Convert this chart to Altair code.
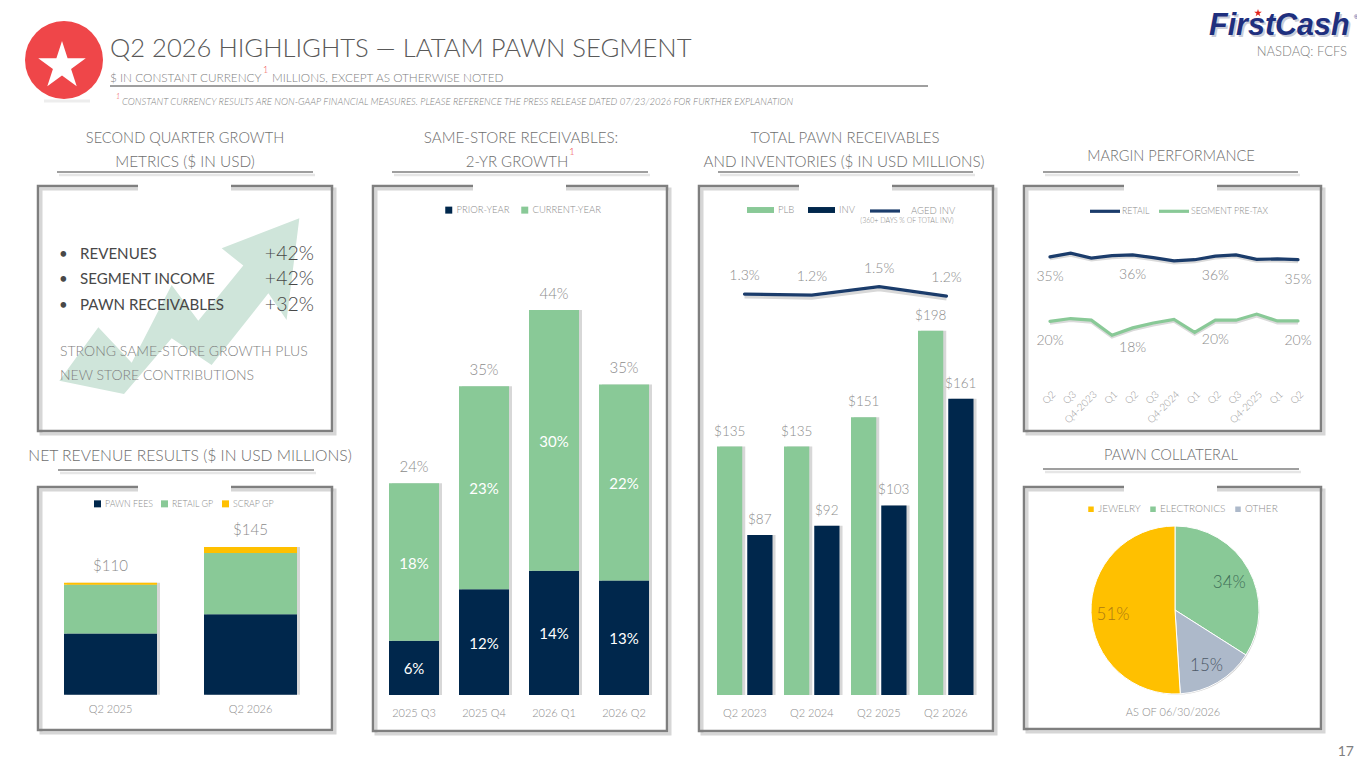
import altair as alt
import pandas as pd

# ---------- palette ----------
NAVY = "#00274C"; LINE_NAVY = "#1B3C6B"; GREEN = "#89C997"; YELLOW = "#FFC000"; SLATE = "#ADB9CA"
GRAY = "#7F7F7F"; LABEL = "#8C8C8C"; TEXT = "#595959"; RED = "#EF4649"
FONT = "Lato"
H = 752

# ---------- data ----------
rev_periods = ["Q2 2025", "Q2 2026"]
rev_series = ["Pawn Fees", "Retail GP", "Scrap GP"]
rev_pawn = [60, 79]
rev_retail = [48, 60]
rev_scrap = [2, 6]
rev_totals = ["$110", "$145"]

ss_periods = ["2025 Q3", "2025 Q4", "2026 Q1", "2026 Q2"]
ss_prior = [6.2, 12.1, 14.2, 13.1]
ss_current = [18.0, 23.2, 29.8, 22.4]
ss_prior_lbl = ["6%", "12%", "14%", "13%"]
ss_current_lbl = ["18%", "23%", "30%", "22%"]
ss_total_lbl = ["24%", "35%", "44%", "35%"]

tp_periods = ["Q2 2023", "Q2 2024", "Q2 2025", "Q2 2026"]
tp_plb = [135, 135, 151, 198]
tp_inv = [87, 92, 103, 161]
tp_aged = [1.25, 1.21, 1.50, 1.18]
tp_aged_lbl = ["1.3%", "1.2%", "1.5%", "1.2%"]

mg_periods = ["Q2-2023", "Q3-2023", "Q4-2023", "Q1-2024", "Q2-2024", "Q3-2024", "Q4-2024",
              "Q1-2025", "Q2-2025", "Q3-2025", "Q4-2025", "Q1-2026", "Q2-2026"]
mg_retail = [35.8, 36.7, 35.5, 36.1, 36.3, 35.6, 34.8, 35.1, 36.0, 36.3, 35.2, 35.3, 35.1]
mg_segment = [19.9, 20.6, 20.2, 16.5, 18.3, 19.5, 20.4, 17.2, 20.2, 20.2, 21.7, 20.0, 20.0]
mg_retail_lbl = ["35%", "", "", "", "36%", "", "", "", "36%", "", "", "", "35%"]
mg_segment_lbl = ["20%", "", "", "", "18%", "", "", "", "20%", "", "", "", "20%"]

pie_cats = ["Electronics", "Other", "Jewelry"]
pie_vals = [34, 15, 51]
pie_lbl_colors = ["#3F6F58", "#4E5A68", "#AD7A12"]

ARROW = [(118, 782), (235, 622), (335, 728), (455, 495), (535, 602), (670, 437), (605, 385), (838, 295),
         (800, 600), (745, 520), (575, 735), (455, 655), (312, 822)]
STAR = "M0,-1L0.224,-0.309L0.951,-0.309L0.363,0.118L0.588,0.809L0,0.382L-0.588,0.809L-0.363,0.118L-0.951,-0.309L-0.224,-0.309Z"

# ---------- helpers ----------
one = alt.Data(values=[{"k": 1}])
layers = []


def px(v):
    return v - 8


def add(c):
    layers.append(c)


def txt(s, x, y, size, color=TEXT, align="left", weight=300, font=FONT, style="normal", baseline="alphabetic", angle=0):
    add(alt.Chart(one).mark_text(fontSize=size, color=color, align=align, fontWeight=weight, font=font,
                                 fontStyle=style, baseline=baseline, angle=angle)
        .encode(x=alt.value(px(x)), y=alt.value(px(y)), text=alt.value(s)))


def rule(x1, x2, y, color=GRAY, w=1.5):
    add(alt.Chart(one).mark_rule(color=color, strokeWidth=w)
        .encode(x=alt.value(px(x1)), x2=alt.value(px(x2)), y=alt.value(px(y))))


def head_rule(x1, x2, y):
    rule(x1 + 2, x2 + 2, y + 3, "#E6E6E6", 2.5)
    rule(x1, x2, y, GRAY, 1.5)


def box(x1, y1, x2, y2, **kw):
    add(alt.Chart(one).mark_rect(**kw).encode(x=alt.value(px(x1)), x2=alt.value(px(x2)),
                                              y=alt.value(px(y1)), y2=alt.value(px(y2))))


def frame(x1, y1, x2, y2):
    box(x1, y1, x2, y2, fill="white")
    box(x1 + 3, y1 + 3, x2 + 3, y2 + 3, fill="white", fillOpacity=0, stroke="#D6D6D6", strokeWidth=3)
    box(x1, y1, x2, y2, fill="white", fillOpacity=0, stroke=GRAY, strokeWidth=2.5)
    box(x1 + 100, y1 - 4, x1 + 193, y1 + 8, fill="white")


def band(cats, left, w, step, shift=0):
    r0 = px(left) - (step - w) / 2 + shift
    return alt.Scale(domain=cats, range=[r0, r0 + step * len(cats)],
                     paddingInner=(step - w) / step, paddingOuter=(step - w) / (2 * step))


def points(cats, first, last):
    return alt.Scale(type="point", domain=cats, range=[px(first), px(last)], padding=0)


def vert(domain, bottom, top, shift=0):
    return alt.Scale(domain=domain, range=[px(bottom) + shift, px(top) + shift], nice=False, zero=False)


def cat_axis(y, size=11, color=LABEL, **kw):
    return alt.Axis(orient="bottom", offset=-(H - px(y)), domain=False, ticks=False, tickSize=0, labelPadding=0,
                    title=None, labelFont=FONT, labelFontSize=size, labelColor=color, labelFontWeight=300,
                    labelAngle=kw.pop("labelAngle", 0), zindex=1, grid=False, labelOverlap=False, **kw)


def legend(x, y, size=9, sym="square", symsize=49, **kw):
    return alt.Legend(orient="none", legendX=px(x), legendY=px(y), direction="horizontal", title=None,
                      symbolType=sym, symbolSize=symsize, labelFont=FONT, labelFontSize=size, labelColor=LABEL,
                      labelFontWeight=300, zindex=1, labelExpr="upper(datum.label)", **kw)


# ---------- header ----------
rule(44, 90, 101, "#EDEDED", 3)
add(alt.Chart(one).mark_point(shape="circle", filled=True, size=6084, color=RED, opacity=1)
    .encode(x=alt.value(px(64)), y=alt.value(px(60))))
add(alt.Chart(one).mark_point(shape=STAR, filled=True, size=2500, color="white", opacity=1)
    .encode(x=alt.value(px(62)), y=alt.value(px(66))))
txt("Q2 2026 HIGHLIGHTS — LATAM PAWN SEGMENT", 110, 57, 25.6, TEXT)
txt("$ IN CONSTANT CURRENCY", 110, 82, 11.8, GRAY)
txt("1", 263, 73, 9, RED)
txt("MILLIONS, EXCEPT AS OTHERWISE NOTED", 272, 82, 11.8, GRAY)
rule(110, 928, 86, GRAY, 1.6)
txt("1", 116, 99, 7, RED, style="italic")
txt("CONSTANT CURRENCY RESULTS ARE NON-GAAP FINANCIAL MEASURES. PLEASE REFERENCE THE PRESS RELEASE DATED 07/23/2026 FOR FURTHER EXPLANATION",
    122, 105, 9.5, GRAY, style="italic")

txt("FirstCash", 1211, 37, 30.5, "#C9CCD8", weight=700, font="Liberation Sans", style="italic")
txt("FirstCash", 1209, 35, 30.5, "#1E2F7E", weight=700, font="Liberation Sans", style="italic")
txt("®", 1354, 19, 6, "#1E2F7E", font="Liberation Sans", weight=400)
add(alt.Chart(one).mark_point(shape=STAR, filled=True, size=64, color="#E2231A", opacity=1)
    .encode(x=alt.value(px(1258)), y=alt.value(px(13))))
txt("NASDAQ: FCFS", 1347, 56, 13, GRAY, align="right")
txt("17", 1354, 756, 14, GRAY, align="right", weight=400)

# ---------- section titles ----------
TC = "#6E6E6E"
txt("SECOND QUARTER GROWTH", 185, 143, 14.6, TC, "center")
txt("METRICS ($ IN USD)", 185, 167, 15.4, TC, "center")
head_rule(57, 313, 172)
txt("SAME-STORE RECEIVABLES:", 521, 143, 15.2, TC, "center")
txt("2-YR GROWTH", 517, 167, 15, TC, "center")
txt("1", 569, 155, 10, RED)
head_rule(392, 648, 172)
txt("TOTAL PAWN RECEIVABLES", 845, 143, 15, TC, "center")
txt("AND INVENTORIES ($ IN USD MILLIONS)", 844, 167, 15.2, TC, "center")
head_rule(718, 973, 172)
txt("MARGIN PERFORMANCE", 1171, 161, 14.6, TC, "center")
head_rule(1043, 1298, 172)
txt("NET REVENUE RESULTS ($ IN USD MILLIONS)", 190, 461, 15.7, TC, "center")
head_rule(58, 314, 470)
txt("PAWN COLLATERAL", 1171, 460, 14.6, TC, "center")
head_rule(1043, 1299, 469)

# ---------- frames ----------
frame(38, 186, 332, 431)
frame(38, 487, 332, 730)
frame(373, 186, 667, 731)
frame(699, 186, 993, 731)
frame(1024, 186, 1321, 431)
frame(1024, 487, 1321, 729)

# ---------- growth panel ----------
lo_x = min(p[0] for p in ARROW); hi_x = max(p[0] for p in ARROW)
lo_y = min(p[1] for p in ARROW); hi_y = max(p[1] for p in ARROW)
cx, cy = (lo_x + hi_x) / 2, (lo_y + hi_y) / 2
half = (hi_x - lo_x) / 2
arrow_path = "M" + "L".join(f"{(a - cx) / half:.3f},{(b - cy) / half:.3f}" for a, b in ARROW) + "Z"
add(alt.Chart(one).mark_point(shape=arrow_path, filled=True, size=(2 * half / 3) ** 2, color="#CFE5DA", opacity=1)
    .encode(x=alt.value(px(20 + cx / 3)), y=alt.value(px(120 + cy / 3))))
DARK = "#484848"
for lbl, pct, y in [("REVENUES", "+42%", 259), ("SEGMENT INCOME", "+42%", 284), ("PAWN RECEIVABLES", "+32%", 310)]:
    txt("•", 59, y, 15, DARK, weight=400)
    txt(lbl, 80, y, 15.1, DARK, weight=400)
    txt(pct, 314, y + 1, 19.5, DARK, "right")
txt("STRONG SAME-STORE GROWTH PLUS", 60, 356, 14, GRAY)
txt("NEW STORE CONTRIBUTIONS", 60, 380, 14, GRAY)

# ---------- net revenue ----------
rev = pd.DataFrame({
    "period": rev_periods * 3,
    "series": [s for s in rev_series for _ in rev_periods],
    "value": rev_pawn + rev_retail + rev_scrap,
    "o": [i for i in range(3) for _ in rev_periods],
})
rev_tot = pd.DataFrame({"period": rev_periods,
                        "total": [a + b + c for a, b, c in zip(rev_pawn, rev_retail, rev_scrap)],
                        "lbl": rev_totals})
RD = [0, 145]
add(alt.Chart(rev_tot).mark_bar(color="#BDBDBD", opacity=0.6).encode(
    x=alt.X("period:N", scale=band(rev_periods, 64, 93, 140, 3), axis=None),
    y=alt.Y("total:Q", scale=vert(RD, 694.7, 547, 0), axis=None)))
add(alt.Chart(rev).mark_bar().encode(
    x=alt.X("period:N", scale=band(rev_periods, 64, 93, 140), axis=cat_axis(703)),
    y=alt.Y("value:Q", stack="zero", scale=vert(RD, 694.7, 547), axis=None),
    order=alt.Order("o:Q"),
    color=alt.Color("series:N", scale=alt.Scale(domain=rev_series, range=[NAVY, GREEN, YELLOW]),
                    legend=legend(93, 499, 8.8, columnPadding=7, labelOffset=3))))
add(alt.Chart(rev_tot).mark_text(fontSize=15, color=LABEL, font=FONT, fontWeight=300, dy=-17).encode(
    x=alt.X("period:N", scale=band(rev_periods, 64, 93, 140), axis=None),
    y=alt.Y("total:Q", scale=vert(RD, 694.7, 547), axis=None),
    text="lbl:N"))

# ---------- same-store ----------
ss = pd.DataFrame({
    "period": ss_periods * 2,
    "series": ["Prior-Year"] * 4 + ["Current-Year"] * 4,
    "value": ss_prior + ss_current,
    "o": [0] * 4 + [1] * 4,
})
ss_tot = pd.DataFrame({"period": ss_periods, "total": [a + b for a, b in zip(ss_prior, ss_current)], "lbl": ss_total_lbl})
ss_in = pd.DataFrame({
    "period": ss_periods * 2,
    "mid": [a / 2 for a in ss_prior] + [a + b / 2 for a, b in zip(ss_prior, ss_current)],
    "lbl": ss_prior_lbl + ss_current_lbl,
})
SD = [0, 44]
add(alt.Chart(ss_tot).mark_bar(color="#BDBDBD", opacity=0.6).encode(
    x=alt.X("period:N", scale=band(ss_periods, 389, 50, 70, 3), axis=None),
    y=alt.Y("total:Q", scale=vert(SD, 695, 310, 0), axis=None)))
add(alt.Chart(ss).mark_bar().encode(
    x=alt.X("period:N", scale=band(ss_periods, 389, 50, 70), axis=cat_axis(707)),
    y=alt.Y("value:Q", stack="zero", scale=vert(SD, 695, 310), axis=None),
    order=alt.Order("o:Q"),
    color=alt.Color("series:N", scale=alt.Scale(domain=["Prior-Year", "Current-Year"], range=[NAVY, GREEN]),
                    legend=legend(444, 205, 9.5, columnPadding=10, labelOffset=3))))
add(alt.Chart(ss_in).mark_text(fontSize=15, color="white", font=FONT, fontWeight=400, dy=1.5).encode(
    x=alt.X("period:N", scale=band(ss_periods, 389, 50, 70), axis=None),
    y=alt.Y("mid:Q", scale=vert(SD, 695, 310), axis=None),
    text="lbl:N"))
add(alt.Chart(ss_tot).mark_text(fontSize=15, color=LABEL, font=FONT, fontWeight=300, dy=-16).encode(
    x=alt.X("period:N", scale=band(ss_periods, 389, 50, 70), axis=None),
    y=alt.Y("total:Q", scale=vert(SD, 695, 310), axis=None),
    text="lbl:N"))

# ---------- total pawn ----------
tp = pd.DataFrame({
    "period": tp_periods * 2,
    "series": ["PLB"] * 4 + ["INV"] * 4,
    "value": tp_plb + tp_inv,
    "lbl": [f"${v}" for v in tp_plb + tp_inv],
})
tp_line = pd.DataFrame({"period": tp_periods, "aged": tp_aged, "lbl": tp_aged_lbl, "series": ["Aged INV"] * 4})
TD = [0, 198]
TIN = 5 / 30.25
offs = alt.Scale(domain=["PLB", "INV"], paddingInner=TIN, paddingOuter=0)
add(alt.Chart(tp).mark_bar(color="#BDBDBD", opacity=0.6).encode(
    x=alt.X("period:N", scale=band(tp_periods, 717, 55.5, 67, 3), axis=None),
    xOffset=alt.XOffset("series:N", scale=offs),
    y=alt.Y("value:Q", scale=vert(TD, 695, 330.7, 0), axis=None)))
add(alt.Chart(tp).mark_bar().encode(
    x=alt.X("period:N", scale=band(tp_periods, 717, 55.5, 67), axis=cat_axis(707)),
    xOffset=alt.XOffset("series:N", scale=offs),
    y=alt.Y("value:Q", scale=vert(TD, 695, 330.7), axis=None),
    color=alt.Color("series:N", scale=alt.Scale(domain=["PLB", "INV"], range=[GREEN, NAVY]),
                    legend=legend(746, 195.5, 9.5, sym="M-1,-0.22H1V0.22H-1Z", symsize=27 * 27, columnPadding=12, labelOffset=3))))
for ser, left in [("PLB", 717), ("INV", 747)]:
    add(alt.Chart(tp[tp["series"] == ser]).mark_text(fontSize=13.5, color=LABEL, font=FONT, fontWeight=300, dy=-15).encode(
        x=alt.X("period:N", scale=band(tp_periods, left, 25.5, 67), axis=None),
        y=alt.Y("value:Q", scale=vert(TD, 695, 330.7), axis=None),
        text="lbl:N"))
AD = [1.2, 1.5]
add(alt.Chart(tp_line).mark_line(color="#D8D8D8", strokeWidth=3).encode(
    x=alt.X("period:N", scale=points(tp_periods, 744.5, 946.5), axis=None),
    y=alt.Y("aged:Q", scale=vert(AD, 295.5, 286.7, 3), axis=None)))
add(alt.Chart(tp_line).mark_line(strokeWidth=3.2, strokeCap="round").encode(
    x=alt.X("period:N", scale=points(tp_periods, 744.5, 946.5), axis=None),
    y=alt.Y("aged:Q", scale=vert(AD, 295.5, 286.7), axis=None),
    color=alt.Color("series:N", scale=alt.Scale(domain=["Aged INV"], range=[LINE_NAVY]),
                    legend=legend(868, 194, 9.5, sym="stroke", symsize=900, symbolStrokeWidth=3.2, labelOffset=9))))
txt("(360+ DAYS % OF TOTAL INV)", 907, 223, 7, LABEL, "center", weight=300)
add(alt.Chart(tp_line).mark_text(fontSize=14, color=LABEL, font=FONT, fontWeight=300, dy=-18).encode(
    x=alt.X("period:N", scale=points(tp_periods, 744.5, 946.5), axis=None),
    y=alt.Y("aged:Q", scale=vert(AD, 295.5, 286.7), axis=None),
    text="lbl:N"))

# ---------- margin ----------
mg = pd.DataFrame({
    "period": mg_periods * 2,
    "series": ["Retail"] * 13 + ["Segment Pre-Tax"] * 13,
    "value": mg_retail + mg_segment,
    "lbl": mg_retail_lbl + mg_segment_lbl,
})
MD = [16, 37]
MB, MT = 337.2, 252
add(alt.Chart(mg).mark_line(color="#DADADA", strokeWidth=3).encode(
    x=alt.X("period:N", scale=points(mg_periods, 1050, 1298), axis=None),
    y=alt.Y("value:Q", scale=vert(MD, MB, MT, 2), axis=None),
    detail="series:N"))
add(alt.Chart(mg).mark_line(strokeWidth=3.2, strokeCap="round").encode(
    x=alt.X("period:N", scale=points(mg_periods, 1050, 1298),
            axis=cat_axis(389, 10, "#999999", labelAngle=-45,
                          labelExpr="indexof(datum.value,'Q4')==0 ? datum.value : split(datum.value,'-')[0]")),
    y=alt.Y("value:Q", scale=vert(MD, MB, MT), axis=None),
    color=alt.Color("series:N", scale=alt.Scale(domain=["Retail", "Segment Pre-Tax"], range=[LINE_NAVY, GREEN]),
                    legend=legend(1088, 194, 8.8, sym="stroke", symsize=900, symbolStrokeWidth=3.2, columnPadding=2, labelOffset=0))))
add(alt.Chart(mg).mark_text(fontSize=14, color=LABEL, font=FONT, fontWeight=300, dy=20).encode(
    x=alt.X("period:N", scale=points(mg_periods, 1050, 1298), axis=None),
    y=alt.Y("value:Q", scale=vert(MD, MB, MT), axis=None),
    text="lbl:N"))

# ---------- pie ----------
pie = pd.DataFrame({"cat": pie_cats, "v": pie_vals, "o": [0, 1, 2], "lc": pie_lbl_colors,
                    "lbl": [f"{v}%" for v in pie_vals]})
PX, PY = px(1175), px(610)
add(alt.Chart(one).mark_point(shape="circle", filled=True, size=27556, color="#C4C4C4", opacity=0.8)
    .encode(x=alt.value(PX + 1.5), y=alt.value(PY + 1.5)))
add(alt.Chart(pie).mark_arc(radius=84, stroke="white", strokeWidth=1).encode(
    x=alt.value(PX), y=alt.value(PY),
    theta=alt.Theta("v:Q", stack=True, scale=alt.Scale(domain=[0, 100], range=[0, 6.2832])),
    order=alt.Order("o:Q"),
    color=alt.Color("cat:N", scale=alt.Scale(domain=["Jewelry", "Electronics", "Other"], range=[YELLOW, GREEN, SLATE]),
                    legend=legend(1086, 504, 10, columnPadding=5, labelOffset=2))))
add(alt.Chart(pie).mark_text(radius=62, fontSize=17, font=FONT, fontWeight=300, dy=3).encode(
    x=alt.value(PX), y=alt.value(PY),
    theta=alt.Theta("v:Q", stack=True, scale=alt.Scale(domain=[0, 100], range=[0, 6.2832])),
    order=alt.Order("o:Q"),
    color=alt.Color("lc:N", scale=None),
    text="lbl:N"))
txt("AS OF 06/30/2026", 1173, 716, 11, LABEL, "center")

chart = (alt.layer(*layers)
         .resolve_scale(x="independent", y="independent", color="independent", theta="independent", xOffset="independent")
         .resolve_axis(x="independent", y="independent")
         .resolve_legend(color="independent")
         .properties(width=1349, height=H, padding=0, background="white",
                     autosize=alt.AutoSizeParams(type="none"))
         .configure_view(stroke=None))
chart.save("out.html", embed_options={"renderer": "svg", "actions": False})
